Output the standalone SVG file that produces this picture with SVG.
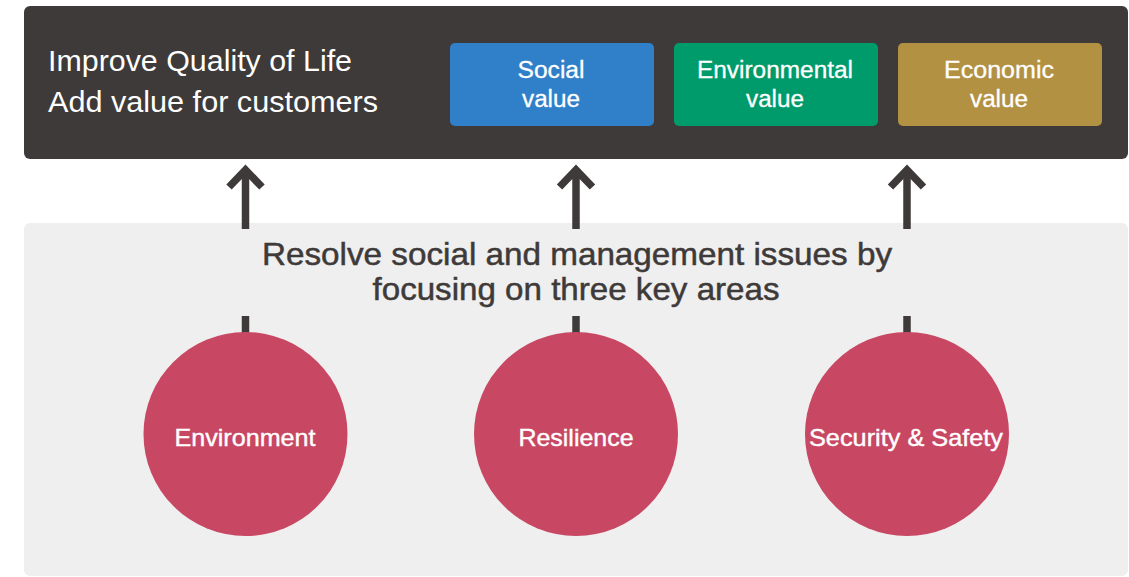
<svg xmlns="http://www.w3.org/2000/svg" width="1129" height="577" viewBox="0 0 1129 577">
<style>
.bg{fill:#3e3a39}
.pane{fill:#efefef}
.vt{font-family:"Liberation Sans",Arial,sans-serif;font-size:23.5px;fill:#ffffff;stroke:#ffffff;stroke-width:0.3;text-anchor:middle}
.ct{font-family:"Liberation Sans",Arial,sans-serif;font-size:24px;fill:#ffffff;stroke:#ffffff;stroke-width:0.4;text-anchor:middle}
.head{font-family:"Liberation Sans",Arial,sans-serif;font-size:30px;fill:#ffffff}
.mid{font-family:"Liberation Sans",Arial,sans-serif;font-size:32px;fill:#3e3a39;stroke:#3e3a39;stroke-width:0.5;text-anchor:middle}
.circ{fill:#c84763}
.arr{fill:none;stroke:#3e3a39;stroke-width:7.5}
</style>
<rect width="1129" height="577" fill="#ffffff"/>
<g id="top-panel">
<rect class="bg" x="24" y="6" width="1104" height="153" rx="6"/>
<text class="head" x="48" y="71" textLength="304" lengthAdjust="spacingAndGlyphs">Improve Quality of Life</text>
<text class="head" x="48" y="112" textLength="330" lengthAdjust="spacingAndGlyphs">Add value for customers</text>
</g>
<g id="social-value">
<rect x="450" y="43" width="204" height="83" rx="5" fill="#2f80c8"/>
<text class="vt" x="551" y="78" textLength="67" lengthAdjust="spacingAndGlyphs">Social</text>
<text class="vt" x="551" y="107" textLength="58" lengthAdjust="spacingAndGlyphs">value</text>
</g>
<g id="environmental-value">
<rect x="674" y="43" width="204" height="83" rx="5" fill="#009b6b"/>
<text class="vt" x="775" y="78" textLength="156" lengthAdjust="spacingAndGlyphs">Environmental</text>
<text class="vt" x="775" y="107" textLength="58" lengthAdjust="spacingAndGlyphs">value</text>
</g>
<g id="economic-value">
<rect x="898" y="43" width="204" height="83" rx="5" fill="#b39143"/>
<text class="vt" x="999" y="78" textLength="110" lengthAdjust="spacingAndGlyphs">Economic</text>
<text class="vt" x="999" y="107" textLength="58" lengthAdjust="spacingAndGlyphs">value</text>
</g>
<g id="bottom-panel">
<rect class="pane" x="24" y="223" width="1104" height="353" rx="6"/>
<text class="mid" x="577" y="265" textLength="630" lengthAdjust="spacingAndGlyphs">Resolve social and management issues by</text>
<text class="mid" x="576" y="300" textLength="407" lengthAdjust="spacingAndGlyphs">focusing on three key areas</text>
</g>
<g id="connectors">
<line class="arr" x1="245.5" y1="170" x2="245.5" y2="229"/>
<polyline class="arr" points="229,187 245.5,170 262,187"/>
<line class="arr" x1="245.5" y1="316" x2="245.5" y2="334"/>
<line class="arr" x1="576" y1="170" x2="576" y2="229"/>
<polyline class="arr" points="559.5,187 576,170 592.5,187"/>
<line class="arr" x1="576" y1="316" x2="576" y2="334"/>
<line class="arr" x1="907" y1="170" x2="907" y2="229"/>
<polyline class="arr" points="890.5,187 907,170 923.5,187"/>
<line class="arr" x1="907" y1="316" x2="907" y2="334"/>
</g>
<g id="environment">
<circle class="circ" cx="245.5" cy="434" r="102"/>
<text class="ct" x="245" y="446" textLength="141" lengthAdjust="spacingAndGlyphs">Environment</text>
</g>
<g id="resilience">
<circle class="circ" cx="576" cy="434" r="102"/>
<text class="ct" x="576" y="446" textLength="115" lengthAdjust="spacingAndGlyphs">Resilience</text>
</g>
<g id="security-safety">
<circle class="circ" cx="907" cy="434" r="102"/>
<text class="ct" x="906" y="446" textLength="194" lengthAdjust="spacingAndGlyphs">Security &amp; Safety</text>
</g>
</svg>
